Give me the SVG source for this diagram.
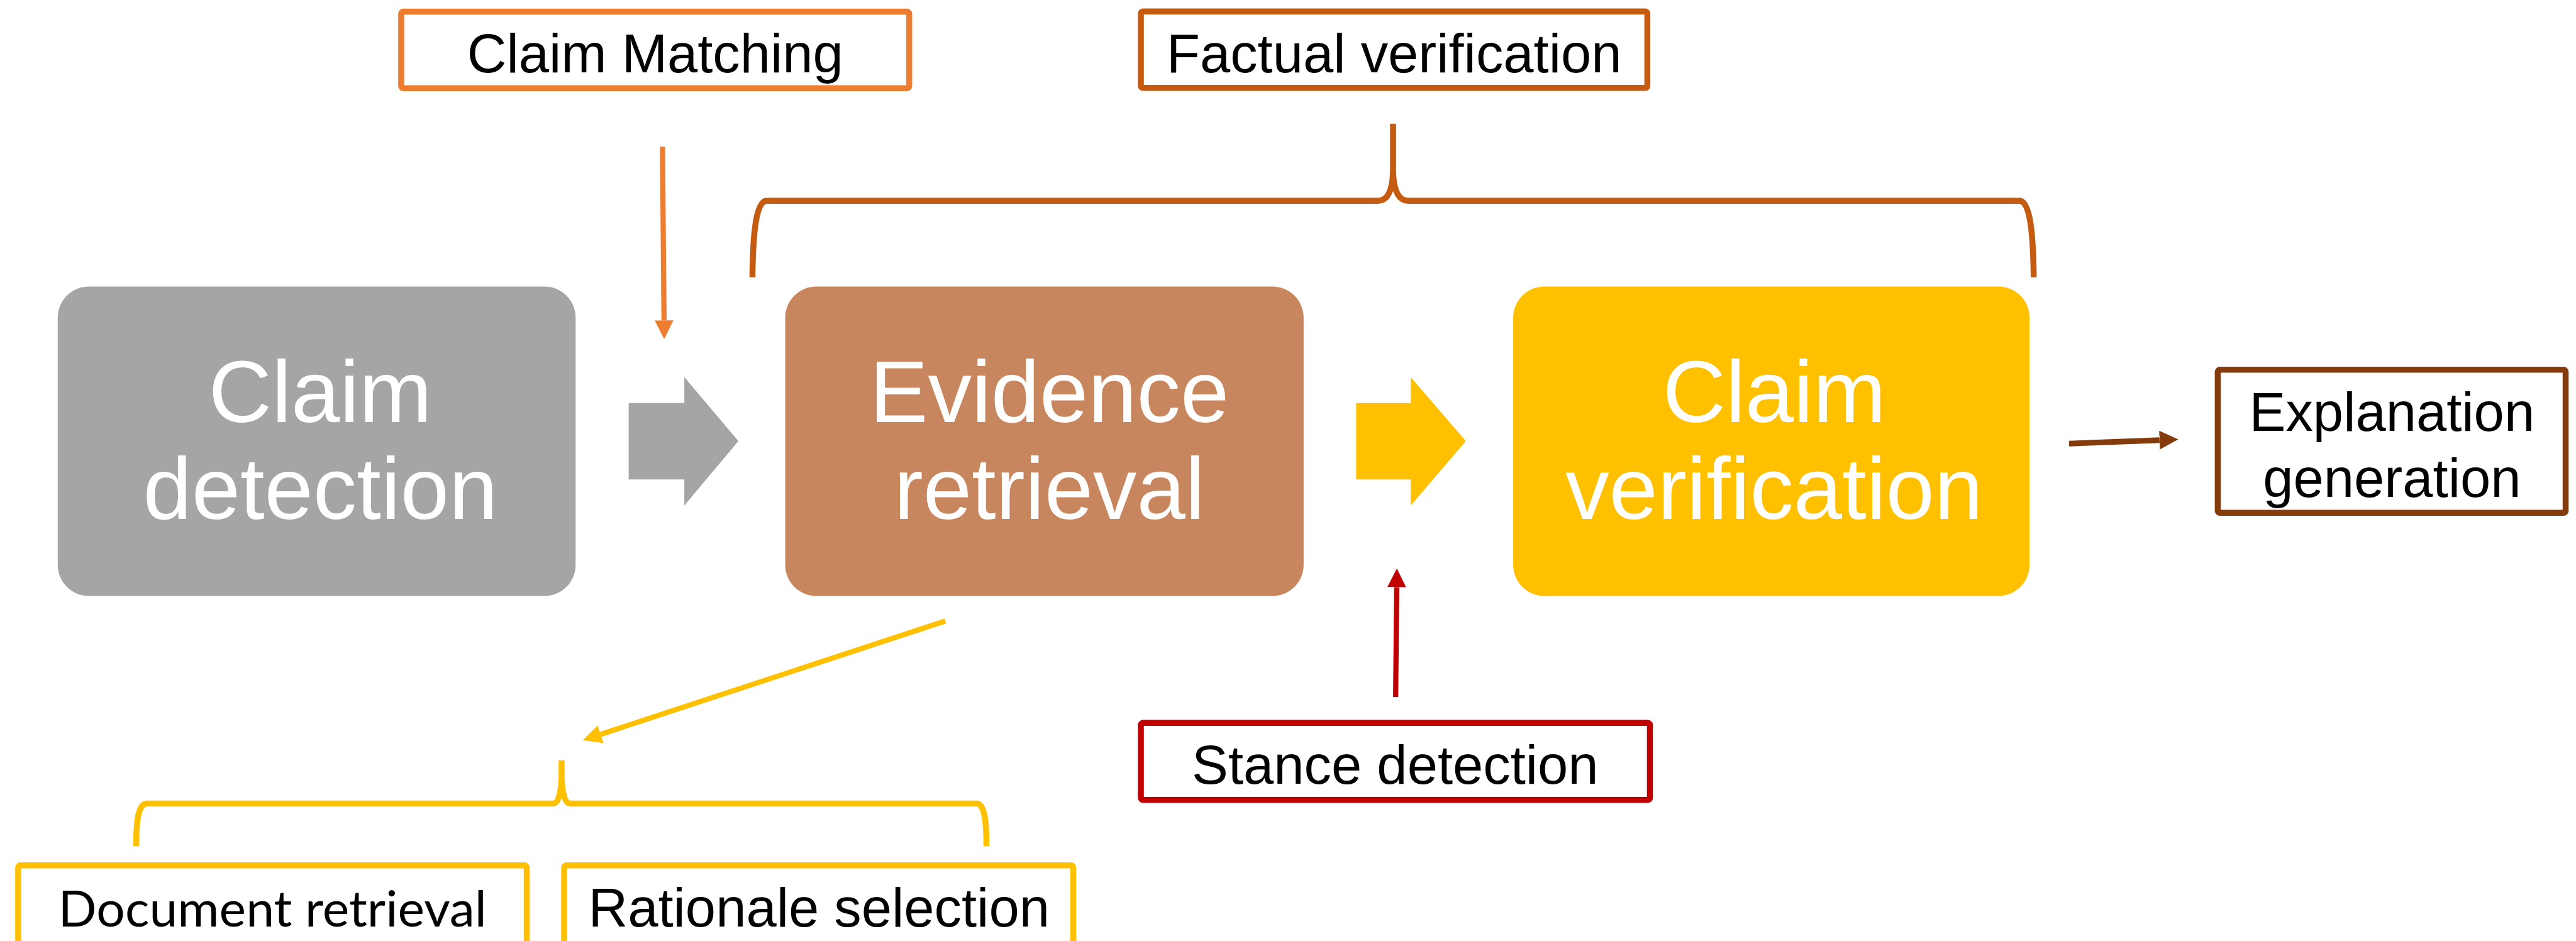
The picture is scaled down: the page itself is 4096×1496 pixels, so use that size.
<svg xmlns="http://www.w3.org/2000/svg" width="4096" height="1496" viewBox="0 0 4096 1496">
<style>
.big{font-family:"Liberation Sans",Arial,sans-serif;font-size:168px;fill:#FFFFFF;text-anchor:middle}
.lbl{font-family:"Liberation Sans",Arial,sans-serif;font-size:105px;fill:#000000;text-anchor:middle}
.lbl2{font-family:Lato,"Open Sans",sans-serif;font-size:96px;fill:#000000;text-anchor:middle}
.box{fill:#FFFFFF;stroke-width:11.5}
.brace{fill:none;stroke-width:11.5;stroke-linejoin:round}
.ln{fill:none;stroke-width:10}
</style>
<defs>
<marker id="hOrange" markerUnits="userSpaceOnUse" markerWidth="36" markerHeight="36" refX="0" refY="18" orient="auto"><path d="M0,0 L36,18 L0,36 z" fill="#ED7D31"/></marker>
<marker id="hRed" markerUnits="userSpaceOnUse" markerWidth="36" markerHeight="36" refX="0" refY="18" orient="auto"><path d="M0,0 L36,18 L0,36 z" fill="#C00000"/></marker>
<marker id="hYellow" markerUnits="userSpaceOnUse" markerWidth="36" markerHeight="36" refX="0" refY="18" orient="auto"><path d="M0,0 L36,18 L0,36 z" fill="#FFC000"/></marker>
<marker id="hBrown" markerUnits="userSpaceOnUse" markerWidth="36" markerHeight="36" refX="0" refY="18" orient="auto"><path d="M0,0 L36,18 L0,36 z" fill="#843C0C"/></marker>
</defs>
<rect x="0" y="0" width="4096" height="1496" fill="#FFFFFF"/>
<g transform="scale(0.82682)">
  <g id="claim-detection">
    <rect x="111" y="551" width="996" height="595" rx="60" ry="60" fill="#A5A5A5"/>
    <text class="big" x="616" y="811">Claim</text>
    <text class="big" x="616" y="998">detection</text>
  </g>
  <g id="evidence-retrieval">
    <rect x="1510" y="551" width="997" height="595" rx="60" ry="60" fill="#C8865E"/>
    <text class="big" x="2018" y="811">Evidence</text>
    <text class="big" x="2018" y="998">retrieval</text>
  </g>
  <g id="claim-verification">
    <rect x="2910" y="551" width="993" height="595" rx="60" ry="60" fill="#FFC000"/>
    <text class="big" x="3412" y="811">Claim</text>
    <text class="big" x="3412" y="998">verification</text>
  </g>
  <g id="claim-matching">
    <rect class="box" x="771.5" y="22.5" width="977" height="147" rx="4" stroke="#ED7D31"/>
    <text class="lbl" x="1260" y="139">Claim Matching</text>
  </g>
  <g id="factual-verification">
    <rect class="box" x="2194" y="22" width="974" height="147" rx="4" stroke="#C55A11"/>
    <text class="lbl" x="2681" y="138.5">Factual verification</text>
  </g>
  <g id="stance-detection">
    <rect class="box" x="2194" y="1390" width="979" height="148" rx="4" stroke="#C00000"/>
    <text class="lbl" x="2683" y="1506.5">Stance detection</text>
  </g>
  <g id="explanation-generation">
    <rect class="box" x="4265" y="711" width="669" height="275" rx="4" stroke="#843C0C"/>
    <text class="lbl" x="4600" y="829">Explanation</text>
    <text class="lbl" x="4600" y="955">generation</text>
  </g>
  <g id="document-retrieval">
    <rect class="box" x="35" y="1664" width="978" height="152" rx="4" stroke="#FFC000"/>
    <text class="lbl2" x="524" y="1782" textLength="824" lengthAdjust="spacingAndGlyphs">Document retrieval</text>
  </g>
  <g id="rationale-selection">
    <rect class="box" x="1085" y="1664" width="979" height="152" rx="4" stroke="#FFC000"/>
    <text class="lbl" x="1575" y="1782">Rationale selection</text>
  </g>
  <g id="connectors">
    <polygon points="1209,775 1316,775 1316,725 1420,848 1316,972 1316,922 1209,922" fill="#A5A5A5"/>
    <polygon points="2608,775 2713,775 2713,725 2819,848 2713,972 2713,922 2608,922" fill="#FFC000"/>
    <line class="ln" x1="1274" y1="282" x2="1277" y2="616" stroke="#ED7D31" marker-end="url(#hOrange)"/>
    <line class="ln" x1="2684" y1="1340" x2="2686" y2="1129" stroke="#C00000" marker-end="url(#hRed)"/>
    <line class="ln" x1="1818" y1="1194" x2="1155" y2="1412" stroke="#FFC000" marker-end="url(#hYellow)"/>
    <line x1="3979" y1="853" x2="4153" y2="846.3" stroke="#843C0C" stroke-width="11" marker-end="url(#hBrown)"/>
    <path class="brace" stroke="#C55A11" d="M1447,533 C1448,440 1455,392 1472,386 L2650,386 C2672,386 2678,360 2679,330 L2679,238 M2679,330 C2680,360 2686,386 2708,386 L3886,386 C3903,392 3910,440 3911,533"/>
    <path class="brace" stroke="#FFC000" d="M262,1627 C262,1575 266,1550 280,1545 L1064,1545 C1075,1545 1079,1520 1080,1495 L1080,1462 M1080,1495 C1081,1520 1085,1545 1096,1545 L1880,1545 C1893,1550 1897,1575 1897,1627"/>
  </g>
</g>
</svg>
